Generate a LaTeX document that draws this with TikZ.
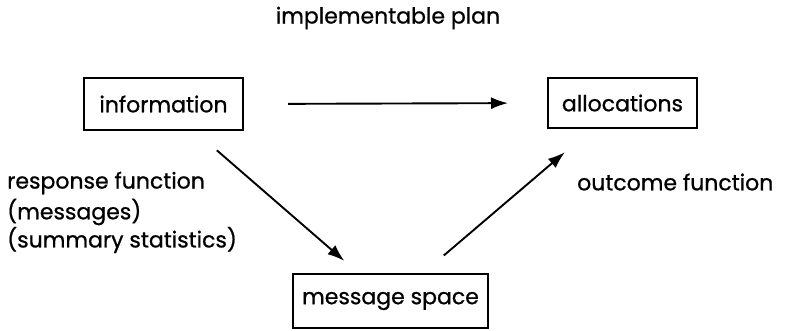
\documentclass[tikz,border=0pt]{standalone}
\usepackage{fontspec}
\setmainfont{Poppins}[FakeBold=0.8,AutoFakeBold=0.8]
\usetikzlibrary{arrows.meta}
\begin{document}
\begin{tikzpicture}[x=1pt,y=-1pt,
  txt/.style={font=\fontsize{22}{26}\selectfont\bfseries},
  box/.style={txt,draw,line width=2.2pt,inner sep=0pt,outer sep=0pt},
  lbl/.style={txt,inner sep=0pt,anchor=west},
  arr/.style={line width=1.9pt,-{Latex[length=17pt,width=12pt]}}]
\useasboundingbox (0,0) rectangle (789,330);
\node[box,minimum width=159pt,minimum height=52pt] (info) at (163.5,104) {information};
\node[box,minimum width=149pt,minimum height=50pt] (alloc) at (622.5,103) {allocations};
\node[box,minimum width=195pt,minimum height=54pt] (msg) at (390.5,301) {message space};
\node[txt,inner sep=0pt] (plan) at (388,18) {implementable plan};
\node[lbl] (resp) at (7,183) {response function};
\node[lbl] (mess) at (7,212) {(messages)};
\node[lbl] (summ) at (7,240) {(summary statistics)};
\node[lbl] (outc) at (577,182) {outcome function};
\draw[arr,shorten <=45pt,shorten >=40pt] (info.east) -- (alloc.west);
\draw[arr,shorten <=31pt,shorten >=20pt] (info) -- (msg);
\draw[arr,shorten <=28.5pt,shorten >=37.4pt] (msg) -- (alloc);
\end{tikzpicture}
\end{document}
